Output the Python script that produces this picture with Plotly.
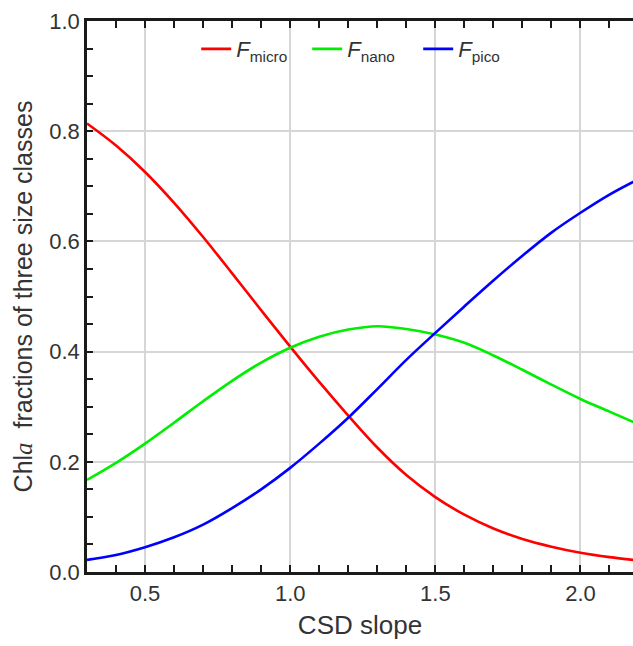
import plotly.graph_objects as go

# CSD slope values and Chl a fractions for the three phytoplankton size classes
csd_slope = [0.3, 0.4, 0.5, 0.6, 0.7, 0.8, 0.9, 1.0, 1.1, 1.2,
             1.3, 1.4, 1.5, 1.6, 1.7, 1.8, 1.9, 2.0, 2.1, 2.2]
f_micro = [0.814, 0.774, 0.726, 0.670, 0.608, 0.542, 0.475, 0.409, 0.345, 0.284,
           0.226, 0.176, 0.136, 0.104, 0.079, 0.060, 0.046, 0.035, 0.027, 0.021]
f_nano = [0.167, 0.198, 0.233, 0.271, 0.310, 0.347, 0.380, 0.407, 0.427, 0.440,
          0.446, 0.441, 0.431, 0.416, 0.393, 0.367, 0.340, 0.314, 0.291, 0.268]
f_pico = [0.022, 0.031, 0.045, 0.063, 0.086, 0.116, 0.150, 0.189, 0.233, 0.280,
          0.332, 0.385, 0.434, 0.482, 0.529, 0.574, 0.616, 0.652, 0.685, 0.713]

series = [
    ("<i>F</i><sub>micro</sub>", f_micro, "#ff0000"),
    ("<i>F</i><sub>nano</sub>", f_nano, "#00ee00"),
    ("<i>F</i><sub>pico</sub>", f_pico, "#0000ff"),
]

FONT = "Liberation Sans, Arial, sans-serif"
TXT = "#333333"
INK = "#1a1a1a"

fig = go.Figure()
for name, vals, color in series:
    fig.add_trace(go.Scatter(
        x=csd_slope, y=vals, name=name, mode="lines",
        line=dict(color=color, width=2.6, shape="spline", smoothing=1.0),
    ))

fig.update_layout(
    xaxis=dict(
        showline=True, linecolor=INK, linewidth=2.5, mirror="ticks",
        ticks="inside", ticklen=7, tickwidth=2, tickcolor=INK,
        showgrid=True, gridcolor="#d6d6d6", gridwidth=1.6, zeroline=False,
        range=[0.3, 2.181], dtick=0.5, tickformat=".1f",
        minor=dict(dtick=0.1, ticks="inside", ticklen=7, tickwidth=2,
                   tickcolor=INK),
        tickfont=dict(family=FONT, size=22, color=TXT),
        title=dict(text="CSD slope", font=dict(family=FONT, size=26, color=TXT),
                   standoff=11),
    ),
    yaxis=dict(
        showline=True, linecolor=INK, linewidth=2.5,
        ticks="inside", ticklen=6, tickwidth=2, tickcolor=INK,
        showgrid=True, gridcolor="#d6d6d6", gridwidth=1.6, zeroline=False,
        range=[0, 1.0], dtick=0.2, tickformat=".1f",
        minor=dict(dtick=0.05, ticks="inside", ticklen=6, tickwidth=2,
                   tickcolor=INK),
        tickfont=dict(family=FONT, size=22, color=TXT),
        title=dict(
            text="Chl<span style='font-family:Liberation Serif, Times New Roman, serif'><i>a</i></span>  fractions of three size classes",
            font=dict(family=FONT, size=25, color=TXT), standoff=10),
    ),
    width=633, height=646,
    margin=dict(l=87, r=0, t=21, b=74, autoexpand=False),
    plot_bgcolor="white", paper_bgcolor="white",
    showlegend=True,
    legend=dict(
        orientation="h", x=0.2, y=0.949, xanchor="left", yanchor="middle",
        bgcolor="rgba(0,0,0,0)", font=dict(family=FONT, size=22, color=TXT),
        entrywidth=66, entrywidthmode="pixels",
    ),
)

fig.write_html("out.html")
